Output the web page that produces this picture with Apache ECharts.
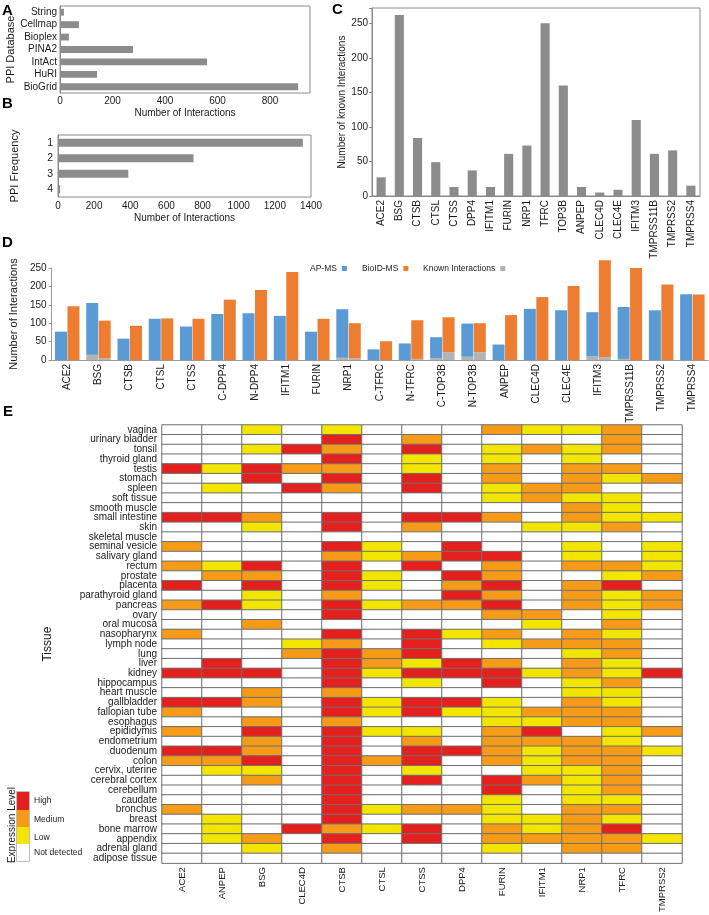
<!DOCTYPE html>
<html>
<head>
<meta charset="utf-8">
<script src="https://cdn.jsdelivr.net/npm/echarts@6/dist/echarts.min.js"></script>
<style>
html,body{margin:0;padding:0;background:#fff;}
#chart{width:709px;height:915px;}
</style>
</head>
<body>
<div id="chart"></div>
<script>
// ---------- Panel A ----------
const ppiDatabases = ['String','Cellmap','Bioplex','PINA2','IntAct','HuRI','BioGrid'];
const ppiDatabaseCounts = [15, 72, 34, 278, 560, 141, 907];
// ---------- Panel B ----------
const ppiFrequencies = ['1','2','3','4'];
const ppiFrequencyCounts = [1355, 750, 389, 12];
// ---------- Panel C ----------
const knownGenes = ['ACE2','BSG','CTSB','CTSL','CTSS','DPP4','IFITM1','FURIN','NRP1','TFRC','TOP3B','ANPEP','CLEC4D','CLEC4E','IFITM3','TMPRSS11B','TMPRSS2','TMPRSS4'];
const knownCounts = [27, 262, 84, 49, 13, 37, 13, 61, 73, 250, 160, 13, 5, 9, 110, 61, 66, 15];
// ---------- Panel D ----------
const baits = ['ACE2','BSG','CTSB','CTSL','CTSS','C-DPP4','N-DPP4','IFITM1','FURIN','NRP1','C-TFRC','N-TFRC','C-TOP3B','N-TOP3B','ANPEP','CLEC4D','CLEC4E','IFITM3','TMPRSS11B','TMPRSS2','TMPRSS4'];
const apmsCounts  = [77, 155, 58, 112, 91, 125, 127, 120, 77, 138, 29, 45, 62, 99, 42, 139, 135, 130, 144, 135, 179];
const bioidCounts = [146, 107, 93, 113, 112, 164, 190, 239, 112, 100, 51, 108, 116, 100, 122, 171, 201, 271, 250, 205, 178];
const knownInApms  = [0, 14, 0, 0, 0, 0, 0, 0, 0, 6, 0, 0, 5, 9, 0, 0, 0, 10, 3, 0, 0];
const knownInBioid = [0, 5, 0, 0, 0, 0, 0, 0, 0, 5, 0, 3, 21, 21, 0, 0, 0, 8, 0, 0, 0];
// ---------- Panel E ----------
const genes = ['ACE2','ANPEP','BSG','CLEC4D','CTSB','CTSL','CTSS','DPP4','FURIN','IFITM1','NRP1','TFRC','TMPRSS2'];
const tissues = ['vagina','urinary bladder','tonsil','thyroid gland','testis','stomach','spleen','soft tissue','smooth muscle','small intestine','skin','skeletal muscle','seminal vesicle','salivary gland','rectum','prostate','placenta','parathyroid gland','pancreas','ovary','oral mucosa','nasopharynx','lymph node','lung','liver','kidney','hippocampus','heart muscle','gallbladder','fallopian tube','esophagus','epididymis','endometrium','duodenum','colon','cervix, uterine','cerebral cortex','cerebellum','caudate','bronchus','breast','bone marrow','appendix','adrenal gland','adipose tissue'];
const levelNames = ['Not detected','Low','Medium','High'];
// expression level per tissue (rows follow `tissues`, columns follow `genes`); 0 none,1 low,2 medium,3 high
const expressionLevels = [
 [0,0,1,0,1,0,0,0,2,1,1,2,0],
 [0,0,0,0,3,0,2,0,0,0,0,2,0],
 [0,0,1,3,2,0,3,0,1,2,1,2,0],
 [0,0,0,0,3,0,1,0,1,0,1,0,0],
 [3,1,3,2,2,0,1,0,2,0,2,2,0],
 [0,0,3,0,3,0,3,0,2,0,2,1,2],
 [0,1,0,3,2,0,3,0,1,2,2,0,0],
 [0,0,0,0,0,0,0,0,1,2,1,1,0],
 [0,0,0,0,0,0,0,0,0,0,2,1,0],
 [3,3,2,0,3,0,3,3,2,0,2,1,1],
 [0,0,1,0,3,0,2,0,0,1,1,2,0],
 [0,0,0,0,0,0,0,0,0,0,0,0,0],
 [2,0,0,0,3,1,0,3,0,0,1,0,1],
 [0,0,0,0,2,1,2,3,3,0,1,0,1],
 [2,1,3,0,3,0,3,0,2,0,2,2,1],
 [0,2,2,0,3,1,0,3,2,0,0,1,2],
 [3,0,3,0,3,1,0,2,3,0,2,3,0],
 [0,0,1,0,2,0,0,3,2,0,2,1,2],
 [2,3,1,0,3,1,2,2,3,0,2,1,2],
 [0,0,0,0,3,0,0,0,2,2,0,1,0],
 [0,0,2,0,0,0,0,0,0,1,0,2,0],
 [2,0,0,0,3,0,3,1,2,0,2,1,0],
 [0,0,0,1,2,0,3,0,1,2,2,2,0],
 [0,0,0,2,3,2,3,0,0,0,1,2,0],
 [0,3,0,0,3,2,1,3,2,0,2,1,0],
 [3,3,3,0,3,1,3,3,3,1,2,1,3],
 [0,0,0,0,3,0,1,0,3,0,1,2,0],
 [0,0,2,0,2,0,0,0,0,0,1,1,0],
 [3,3,2,0,3,1,3,3,1,0,2,1,0],
 [2,0,0,0,3,1,3,1,1,2,2,2,0],
 [0,0,2,0,2,0,0,0,1,1,2,2,0],
 [2,0,3,0,3,1,1,0,2,3,0,1,2],
 [0,0,2,0,3,0,2,0,2,2,2,1,0],
 [3,3,2,0,3,0,3,3,2,1,2,2,1],
 [2,2,3,0,3,2,3,0,2,1,2,2,0],
 [0,1,1,0,3,0,1,0,0,1,1,2,0],
 [0,0,2,0,3,0,3,0,3,2,1,2,0],
 [0,0,0,0,3,0,0,0,3,0,1,2,0],
 [0,0,0,0,3,0,0,0,1,0,1,1,0],
 [2,0,0,0,3,1,2,2,1,0,2,2,0],
 [0,1,0,0,3,0,0,0,1,1,2,1,0],
 [0,1,0,3,2,1,3,0,2,1,2,3,0],
 [0,1,2,0,3,0,3,0,2,2,2,2,1],
 [0,0,1,0,2,0,0,0,1,0,2,2,0],
 [0,0,0,0,0,0,0,0,0,0,0,0,0]
];

// ---------- styles ----------
const FONT = 'Liberation Sans, Arial, Helvetica, sans-serif';
const TXT = '#1a1a1a';
const GRAYBAR = '#8c8c8c';
const FRAME = '#8a8a8a';
const BLUE = '#5B9BD5', ORANGE = '#ED7D31', KNOWN = '#B3B3B3';
const LEVEL_COLORS = ['#FFFFFF', '#F2E500', '#F59B18', '#E3201E'];

const heatData = [];
expressionLevels.forEach((row, t) => row.forEach((v, g) => heatData.push([g, t, v])));

const only = step => v => (v % step === 0 ? String(v) : '');

const chart = echarts.init(document.getElementById('chart'), null, {renderer: 'canvas'});
const letter = (t, x, y) => ({type: 'text', x: x, y: y, style: {text: t, font: 'bold 15px ' + FONT, fill: '#000', textAlign: 'left', textVerticalAlign: 'middle'}});

chart.setOption({
  animation: false,
  textStyle: {fontFamily: FONT, color: TXT},
  grid: [
    {left: 60, top: 6, width: 250, height: 87, show: true, borderColor: FRAME, borderWidth: 1, backgroundColor: 'transparent'},
    {left: 58, top: 135, width: 253, height: 62, show: true, borderColor: FRAME, borderWidth: 1, backgroundColor: 'transparent'},
    {left: 372, top: 8, width: 328, height: 188, show: true, borderColor: FRAME, borderWidth: 1, backgroundColor: 'transparent'},
    {left: 48, top: 268, width: 660, height: 92},
    {left: 162, top: 425, width: 520, height: 441}
  ],
  xAxis: [
    {type: 'value', gridIndex: 0, min: 0, max: 952, interval: 200,
      name: 'Number of Interactions', nameLocation: 'middle', nameGap: 15, nameTextStyle: {fontSize: 10, color: TXT},
      axisLine: {show: false}, axisTick: {show: false}, splitLine: {show: false},
      axisLabel: {fontSize: 10, color: TXT, margin: 3, formatter: only(200)}},
    {type: 'value', gridIndex: 1, min: 0, max: 1400, interval: 200,
      name: 'Number of Interactions', nameLocation: 'middle', nameGap: 16, nameTextStyle: {fontSize: 10, color: TXT},
      axisLine: {show: false}, axisTick: {show: false}, splitLine: {show: false},
      axisLabel: {fontSize: 10, color: TXT, margin: 4, formatter: only(200)}},
    {type: 'category', gridIndex: 2, data: knownGenes,
      axisLine: {lineStyle: {color: FRAME}}, axisTick: {show: false},
      axisLabel: {rotate: 90, interval: 0, fontSize: 10, color: TXT, margin: 4}},
    {type: 'category', gridIndex: 3, data: baits,
      axisLine: {lineStyle: {color: '#9a9a9a'}}, axisTick: {show: false},
      axisLabel: {rotate: 90, interval: 0, fontSize: 10, color: TXT, margin: 4}},
    {type: 'category', gridIndex: 4, data: genes, position: 'bottom',
      axisLine: {show: false}, axisTick: {show: false}, splitLine: {show: false},
      axisLabel: {rotate: 90, interval: 0, fontSize: 9.5, color: TXT, margin: 4}}
  ],
  yAxis: [
    {type: 'category', gridIndex: 0, data: ppiDatabases, inverse: true,
      name: 'PPI Database', nameLocation: 'middle', nameGap: 42, nameTextStyle: {fontSize: 11, color: TXT},
      axisLine: {lineStyle: {color: FRAME}}, axisTick: {show: false},
      axisLabel: {interval: 0, fontSize: 10, color: TXT, margin: 3}},
    {type: 'category', gridIndex: 1, data: ppiFrequencies, inverse: true,
      name: 'PPI Frequency', nameLocation: 'middle', nameGap: 38, nameTextStyle: {fontSize: 11, color: TXT},
      axisLine: {lineStyle: {color: FRAME}}, axisTick: {show: false},
      axisLabel: {interval: 0, fontSize: 10.5, color: TXT, margin: 5}},
    {type: 'value', gridIndex: 2, min: 0, max: 272, interval: 50,
      name: 'Number of known Interactions', nameLocation: 'middle', nameGap: 24, nameTextStyle: {fontSize: 10, color: TXT},
      axisLine: {show: true, lineStyle: {color: FRAME}}, axisTick: {show: true, length: 3, lineStyle: {color: FRAME}}, splitLine: {show: false},
      axisLabel: {fontSize: 10, color: TXT, margin: 4, formatter: only(50)}},
    {type: 'value', gridIndex: 3, min: 0, max: 250, interval: 50,
      name: 'Number of Interactions', nameLocation: 'middle', nameGap: 30, nameTextStyle: {fontSize: 11, color: TXT},
      axisLine: {show: true, lineStyle: {color: '#9a9a9a'}}, axisTick: {show: true, length: 3, lineStyle: {color: '#9a9a9a'}}, splitLine: {show: false},
      axisLabel: {fontSize: 10, color: TXT, margin: 5}},
    {type: 'category', gridIndex: 4, data: tissues, inverse: true,
      name: 'Tissue', nameLocation: 'middle', nameGap: 108, nameTextStyle: {fontSize: 12, color: TXT},
      axisLine: {show: false}, axisTick: {show: false},
      axisLabel: {interval: 0, fontSize: 10, color: TXT, margin: 5}}
  ],
  legend: [
    {data: ['AP-MS'], left: 305, top: 259, align: 'right', icon: 'rect', itemWidth: 5, itemHeight: 5, selectedMode: false, textStyle: {fontSize: 8.5, color: TXT}},
    {data: ['BioID-MS'], left: 357, top: 259, align: 'right', icon: 'rect', itemWidth: 5, itemHeight: 5, selectedMode: false, textStyle: {fontSize: 8.5, color: TXT}},
    {data: ['Known Interactions'], left: 418, top: 259, align: 'right', icon: 'rect', itemWidth: 5, itemHeight: 5, selectedMode: false, textStyle: {fontSize: 8.5, color: TXT}}
  ],
  visualMap: {
    type: 'piecewise', show: false, seriesIndex: 7, dimension: 2,
    pieces: levelNames.map((n, i) => ({value: i, label: n, color: LEVEL_COLORS[i]}))
  },
  series: [
    {type: 'bar', xAxisIndex: 0, yAxisIndex: 0, data: ppiDatabaseCounts, barWidth: '55%', itemStyle: {color: GRAYBAR}},
    {type: 'bar', xAxisIndex: 1, yAxisIndex: 1, data: ppiFrequencyCounts, barWidth: '52%', itemStyle: {color: GRAYBAR}},
    {type: 'bar', xAxisIndex: 2, yAxisIndex: 2, data: knownCounts, barWidth: '50%', itemStyle: {color: GRAYBAR}},
    {type: 'bar', name: 'Known Interactions', xAxisIndex: 3, yAxisIndex: 3, stack: 'ap', data: knownInApms, barWidth: 12, barGap: '4%', clip: false, itemStyle: {color: KNOWN}},
    {type: 'bar', name: 'AP-MS', xAxisIndex: 3, yAxisIndex: 3, stack: 'ap', data: apmsCounts.map((v, i) => v - knownInApms[i]), barWidth: 12, barGap: '4%', clip: false, itemStyle: {color: BLUE}},
    {type: 'bar', name: 'Known Interactions', xAxisIndex: 3, yAxisIndex: 3, stack: 'bio', data: knownInBioid, barWidth: 12, barGap: '4%', clip: false, itemStyle: {color: KNOWN}},
    {type: 'bar', name: 'BioID-MS', xAxisIndex: 3, yAxisIndex: 3, stack: 'bio', data: bioidCounts.map((v, i) => v - knownInBioid[i]), barWidth: 12, barGap: '4%', clip: false, itemStyle: {color: ORANGE}},
    {type: 'heatmap', xAxisIndex: 4, yAxisIndex: 4, data: heatData,
      itemStyle: {borderColor: '#707070', borderWidth: 1}, emphasis: {disabled: true}}
  ],
  graphic: [
    letter('A', 2, 11), letter('B', 2, 104), letter('C', 332, 10), letter('D', 2, 243), letter('E', 3, 412),
    {type: 'text', x: 12, y: 825, rotation: Math.PI / 2,
      style: {text: 'Expression Level', font: '10px ' + FONT, fill: TXT, textAlign: 'center', textVerticalAlign: 'middle'}},
    {type: 'rect', shape: {x: 17, y: 792, width: 12, height: 18}, style: {fill: LEVEL_COLORS[3], stroke: null}},
    {type: 'rect', shape: {x: 17, y: 810, width: 12, height: 17}, style: {fill: LEVEL_COLORS[2], stroke: null}},
    {type: 'rect', shape: {x: 17, y: 827, width: 12, height: 17}, style: {fill: LEVEL_COLORS[1], stroke: null}},
    {type: 'rect', shape: {x: 17, y: 844, width: 12, height: 17}, style: {fill: LEVEL_COLORS[0], stroke: null}},
    {type: 'rect', shape: {x: 16.5, y: 791.5, width: 13, height: 70}, style: {fill: null, stroke: '#bdbdbd', lineWidth: 1}},
    {type: 'text', x: 34, y: 801, style: {text: levelNames[3], font: '8.5px ' + FONT, fill: TXT, textVerticalAlign: 'middle'}},
    {type: 'text', x: 34, y: 820, style: {text: levelNames[2], font: '8.5px ' + FONT, fill: TXT, textVerticalAlign: 'middle'}},
    {type: 'text', x: 34, y: 838, style: {text: levelNames[1], font: '8.5px ' + FONT, fill: TXT, textVerticalAlign: 'middle'}},
    {type: 'text', x: 34, y: 853, style: {text: levelNames[0], font: '8.5px ' + FONT, fill: TXT, textVerticalAlign: 'middle'}}
  ]
});
</script>
</body>
</html>
